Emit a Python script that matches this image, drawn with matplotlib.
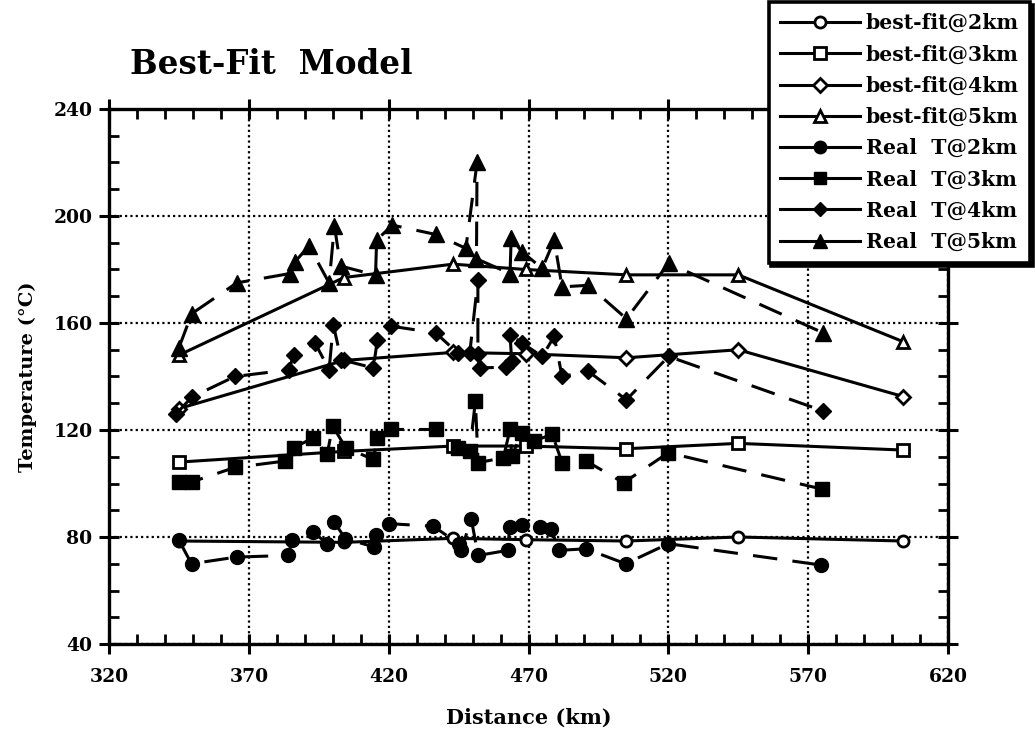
import matplotlib
matplotlib.use('Agg')
import matplotlib.pyplot as plt
from matplotlib.ticker import MultipleLocator
from matplotlib.lines import Line2D

# ---------------- data ----------------
bf_dist = [345, 404, 443, 469, 505, 545, 604]
bf_2km = [78.5, 78.0, 79.5, 79.0, 78.5, 80.0, 78.5]
bf_3km = [108.0, 112.0, 114.0, 114.0, 113.0, 115.0, 112.5]
bf_4km = [128.0, 146.0, 149.0, 148.5, 147.0, 150.0, 132.5]
bf_5km = [148.0, 177.0, 182.0, 180.0, 178.0, 178.0, 153.0]

rt2_dist = [345, 349.5, 365.6, 384, 385.6, 393, 398, 400.5, 404.5, 414.7, 415.6, 420,
            436, 445, 446, 449.5, 452, 462.5, 463.3, 467.5, 474, 478, 481, 490.5,
            504.7, 520, 574.7]
rt2_temp = [78.8, 70.0, 72.5, 73.1, 78.8, 81.9, 77.5, 85.6, 79.4, 76.3, 80.6, 85.0,
            84.0, 77.5, 75.0, 86.9, 73.1, 75.0, 83.7, 84.4, 83.7, 83.1, 75.0, 75.6,
            70.0, 77.5, 69.5]

rt3_dist = [345, 349.6, 365, 383, 386, 393, 398, 400, 404.6, 414.5, 416, 421, 436.8,
            444.7, 449, 451, 452, 461, 463.4, 464, 467.7, 472, 478.5, 482, 490.6,
            504, 520, 575]
rt3_temp = [100.6, 100.6, 106.0, 108.4, 113.4, 117.0, 111.0, 121.5, 113.4, 109.0,
            117.0, 120.2, 120.2, 113.4, 112.2, 130.7, 107.8, 109.6, 120.2, 110.3,
            119.0, 115.9, 118.4, 107.8, 108.4, 100.3, 111.5, 97.9]

rt4_dist = [344, 349.6, 365, 384.4, 386, 393.7, 398.7, 400.2, 403, 414.5, 416, 421,
            436.8, 444.7, 449, 451.9, 451.9, 452.5, 462, 464, 463.4, 467.7, 474.9,
            479.2, 482, 491.4, 505, 520.1, 575.4]
rt4_temp = [126.0, 132.3, 140.0, 142.5, 148.2, 152.5, 142.5, 159.4, 146.3, 143.2,
            153.8, 158.8, 156.3, 148.8, 148.8, 176.0, 148.5, 143.2, 143.5, 145.7,
            155.6, 152.5, 147.5, 155.0, 140.0, 141.9, 131.3, 147.5, 127.1]

rt5_dist = [344.9, 349.6, 365.7, 384.7, 386.5, 391.5, 398.7, 400.6, 402.8, 415.3,
            415.7, 421.3, 436.8, 447.6, 451.6, 451.4, 463.4, 463.8, 467.7, 474.9,
            479.2, 482, 491.4, 505, 520.1, 575.4]
rt5_temp = [150.5, 163.5, 175.0, 178.5, 182.9, 188.8, 175.0, 196.3, 181.3, 177.9,
            191.0, 196.6, 193.1, 187.9, 220.0, 184.0, 178.5, 191.6, 186.6, 180.4,
            191.0, 173.5, 174.1, 161.6, 182.3, 156.3]

labels = ['best-fit@2km', 'best-fit@3km', 'best-fit@4km', 'best-fit@5km',
          'Real  T@2km', 'Real  T@3km', 'Real  T@4km', 'Real  T@5km']

x_ticks = [320, 370, 420, 470, 520, 570, 620]
y_ticks = [40, 80, 120, 160, 200, 240]

# ---------------- figure ----------------
FONT = 'DejaVu Serif'
plt.rcParams['font.family'] = [FONT, 'DejaVu Sans']
plt.rcParams['font.weight'] = 'bold'

fig = plt.figure(figsize=(10.35, 7.36), dpi=100)
ax = fig.add_axes([109 / 1035, 1 - 644 / 736, (948 - 109) / 1035, (644 - 109) / 736])

LW = 2.2
dash = (8, 5)

handles = []
bf_series = [(bf_2km, 'o', 8), (bf_3km, 's', 8), (bf_4km, 'D', 7), (bf_5km, '^', 9)]
for (vals, m, ms), lab in zip(bf_series, labels[:4]):
    ax.plot(bf_dist, vals, color='black', lw=LW, marker=m, ms=ms,
            mfc='white', mec='black', mew=2.0, zorder=3)
    handles.append(Line2D([], [], color='black', lw=LW, marker=m, ms=ms,
                          mfc='white', mec='black', mew=2.0, label=lab))

rt_series = [(rt2_dist, rt2_temp, 'o', 10), (rt3_dist, rt3_temp, 's', 10),
             (rt4_dist, rt4_temp, 'D', 8), (rt5_dist, rt5_temp, '^', 11)]
for (xd, yd, m, ms), lab in zip(rt_series, labels[4:]):
    h, = ax.plot(xd, yd, color='black', lw=LW, marker=m, ms=ms,
                 mfc='black', mec='black', zorder=4)
    h.set_dashes(dash)
    handles.append(Line2D([], [], color='black', lw=LW, marker=m, ms=ms - 1,
                          mfc='black', mec='black', label=lab))

ax.set_xlim(320, 620)
ax.set_ylim(40, 240)
ax.set_xticks(x_ticks)
ax.set_yticks(y_ticks)
ax.xaxis.set_minor_locator(MultipleLocator(10))
ax.yaxis.set_minor_locator(MultipleLocator(10))

ax.grid(True, which='major', color='black', lw=1.6, linestyle=(0, (1, 1.4)), zorder=1)
ax.set_axisbelow(True)

for s in ax.spines.values():
    s.set_linewidth(2.4)

ax.tick_params(which='major', direction='inout', length=14, width=2.2,
               top=True, right=True, labelsize=13.5, pad=5)
ax.tick_params(axis='x', which='major', pad=10)
ax.tick_params(which='minor', direction='in', length=7, width=2.0,
               top=True, right=True)
for lab in ax.get_xticklabels() + ax.get_yticklabels():
    lab.set_fontweight('bold')

ax.set_xlabel('Distance (km)', fontsize=15, fontweight='bold', labelpad=16)
ax.set_ylabel('Temperature (°C)', fontsize=14, fontweight='bold', labelpad=12)

fig.text(130 / 1035, 1 - 65 / 736, 'Best-Fit  Model', fontsize=23.5, fontweight='bold',
         ha='left', va='center')

leg = fig.legend(handles=handles, loc='upper right', bbox_to_anchor=(1030 / 1035, 1 - 2 / 736),
                 fontsize=14.7, frameon=True, fancybox=False, edgecolor='black',
                 framealpha=1, shadow={'color': 'black', 'alpha': 1},
                 handlelength=3.9, handletextpad=0.3, labelspacing=0.55,
                 borderpad=0.55, borderaxespad=0)
leg.get_frame().set_linewidth(2.6)
for t in leg.get_texts():
    t.set_fontweight('bold')

fig.savefig('out.png', dpi=100)
